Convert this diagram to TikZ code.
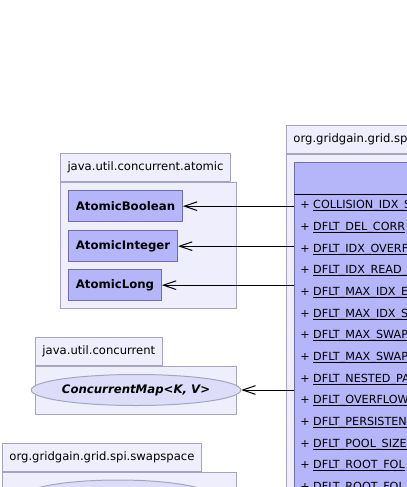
\documentclass[tikz,border=0pt]{standalone}
\usepackage{fontspec}
\setmainfont{DejaVu Sans}
\newcommand\undl[1]{\setbox0\hbox{#1}\rlap{\rule[-1.6pt]{\wd0}{0.5pt}}\box0}
\usetikzlibrary{positioning,shapes.geometric,arrows.meta}
\definecolor{pkgfill}{RGB}{238,238,252}
\definecolor{pkgline}{RGB}{165,165,190}
\definecolor{clsfill}{RGB}{181,181,250}
\definecolor{clsline}{RGB}{110,110,170}
\definecolor{ifcfill}{RGB}{221,221,250}
\begin{document}
\begin{tikzpicture}[x=0.75pt,y=-0.75pt,font=\fontsize{8.7}{10}\selectfont,
   pkg/.style={draw=pkgline,fill=pkgfill,line width=0.75pt,anchor=north west,inner sep=0pt},
   pkgtab/.style={draw=pkgline,fill=pkgfill,line width=0.75pt,minimum height=21pt,inner xsep=5.25pt,inner ysep=0pt},
   cls/.style={draw=clsline,fill=clsfill,line width=0.75pt,anchor=north west,inner xsep=5.5pt,
      minimum height=23.5pt,font=\fontsize{8.8}{10}\selectfont\bfseries},
   ifc/.style={ellipse,draw=pkgline,fill=ifcfill,line width=0.75pt,minimum width=139.5pt,minimum height=23.25pt,
      inner sep=0pt,font=\fontsize{8.8}{10}\selectfont\bfseries\itshape},
   attr/.style={anchor=west,inner sep=0pt,font=\fontsize{8.4}{10}\selectfont},
   dep/.style={-{Straight Barb[length=9.5pt,width=6.5pt]},line width=0.75pt}]
   \useasboundingbox (0,0) rectangle (407,487);
   \clip (0,0) rectangle (407,487);
   \node[pkg,minimum width=132pt,minimum height=94.5pt] (pkgatomic) at (60,182) {};
   \node[pkgtab,above right=0pt and 0pt of pkgatomic.north west] (tabatomic) {java.util.concurrent.atomic};
   \node[cls] (boolean) at (68,190) {AtomicBoolean};
   \node[cls] (integer) at (68,230) {AtomicInteger};
   \node[cls] (long) at (68,269) {AtomicLong};
   \node[pkg,minimum width=150.75pt,minimum height=36pt] (pkgconc) at (35,366) {};
   \node[pkgtab,above right=0pt and 0pt of pkgconc.north west] (tabconc) {java.util.concurrent};
   \node[ifc] (cmap) at (136,390) {ConcurrentMap<K, V>};
   \node[pkg,minimum width=175.5pt,minimum height=40pt] (pkgswap) at (2,472) {};
   \node[pkgtab,above right=0pt and 0pt of pkgswap.north west] (tabswap) {org.gridgain.grid.spi.swapspace};
   \node[ifc,minimum width=142.5pt,minimum height=25.5pt] (swapifc) at (118,497) {};
   \node[pkg,minimum width=200pt,minimum height=300pt] (pkgspi) at (286,154) {};
   \node[pkgtab,minimum width=150pt,text width=140pt,above right=0pt and 0pt of pkgspi.north west] (tabspi) {org.gridgain.grid.sp};
   \node[cls,minimum width=150pt,minimum height=300pt] (spicls) at (294,162) {};
   \draw[line width=0.75pt] (spicls.north west) ++(0,32) -- ++(200,0);
   \foreach \name [count=\i from 0] in {COLLISION\_IDX\_S,DFLT\_DEL\_CORR,DFLT\_IDX\_OVERF,DFLT\_IDX\_READ\_,
      DFLT\_MAX\_IDX\_E,DFLT\_MAX\_IDX\_S,DFLT\_MAX\_SWAP,DFLT\_MAX\_SWAP,DFLT\_NESTED\_PA,DFLT\_OVERFLOW,
      DFLT\_PERSISTEN,DFLT\_POOL\_SIZE,DFLT\_ROOT\_FOL,DFLT\_ROOT\_FOL}
      \node[attr] (attr\i) at (300,206+21.67*\i) {+ \undl{\name}};
   \draw[dep] (spicls.west |- boolean.east) -- (boolean.east);
   \draw[dep] (spicls.west |- integer.east) -- (integer.east);
   \draw[dep] (spicls.west |- long.east) -- (long.east);
   \draw[dep] (spicls.west |- cmap.east) -- (cmap.east);
\end{tikzpicture}
\end{document}
